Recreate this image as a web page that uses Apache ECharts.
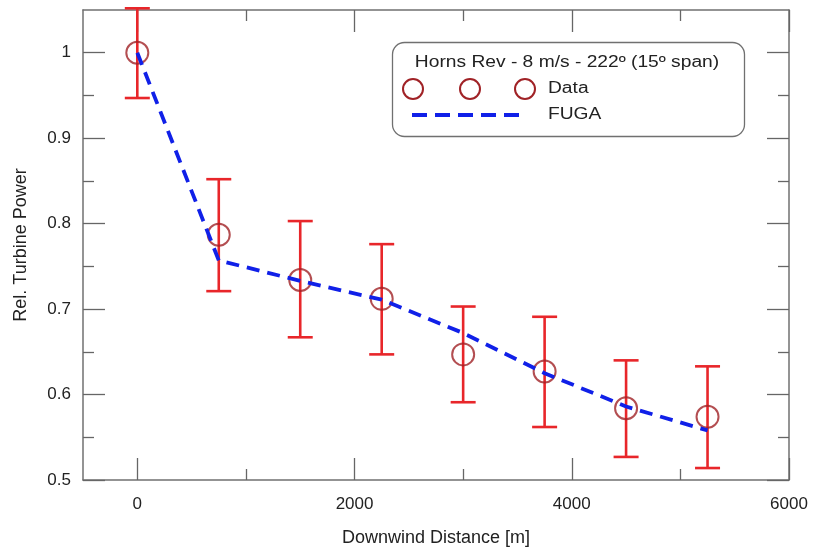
<!DOCTYPE html>
<html>
<head>
<meta charset="utf-8">
<script src="https://cdn.jsdelivr.net/npm/echarts@6/dist/echarts.min.js"></script>
<style>
html,body{margin:0;padding:0;background:#fff;}
#chart{width:813px;height:550px;}
</style>
</head>
<body>
<div id="chart"></div>
<script>
// ---- data ----
var distances = [0, 750, 1500, 2250, 3000, 3750, 4500, 5250];
var dataPower = [1.0, 0.787, 0.734, 0.712, 0.647, 0.627, 0.584, 0.574];
var errUpper  = [1.052, 0.852, 0.803, 0.776, 0.703, 0.691, 0.640, 0.633];
var errLower  = [0.947, 0.721, 0.667, 0.647, 0.591, 0.562, 0.527, 0.514];
var fugaPower = [1.0, 0.757, 0.733, 0.711, 0.672, 0.625, 0.586, 0.558];
var xMajorTicks = [0, 2000, 4000, 6000];
var xMinorTicks = [1000, 3000, 5000];
var yMajorTicks = [0.5, 0.6, 0.7, 0.8, 0.9, 1.0];
var yMinorTicks = [0.55, 0.65, 0.75, 0.85, 0.95];
var legendTitle = 'Horns Rev - 8 m/s - 222º (15º span)';
var seriesNames = ['Data', 'FUGA'];
var xTitle = 'Downwind Distance [m]';
var yTitle = 'Rel. Turbine Power';

var FONT = '"Liberation Sans", Arial, sans-serif';
var chart = echarts.init(document.getElementById('chart'), null, {renderer: 'canvas'});

function xAx(pos, ticks, len, showLine, labels) {
  return {
    type: 'value', position: pos, min: -500, max: 6000,
    axisLine: {show: showLine, onZero: false, lineStyle: {color: '#707070', width: 1.5}},
    axisTick: {show: true, inside: true, length: len, customValues: ticks, lineStyle: {color: '#666', width: 1.3}},
    axisLabel: labels ? {show: true, customValues: labels, margin: 16, color: '#222', fontSize: 17, fontFamily: FONT,
      formatter: function (v) { return String(Math.round(v)); }} : {show: false},
    splitLine: {show: false}
  };
}
function yAx(pos, ticks, len, showLine, labels) {
  return {
    type: 'value', position: pos, min: 0.5, max: 1.05,
    axisLine: {show: showLine, onZero: false, lineStyle: {color: '#707070', width: 1.5}},
    axisTick: {show: true, inside: true, length: len, customValues: ticks, lineStyle: {color: '#666', width: 1.3}},
    axisLabel: labels ? {show: true, customValues: labels, margin: 12, color: '#222', fontSize: 17, fontFamily: FONT,
      formatter: function (v) { return String(Math.round(v * 10) / 10); }} : {show: false},
    splitLine: {show: false}
  };
}

var xAxes = [
  xAx('bottom', xMajorTicks, 22, true, xMajorTicks),
  xAx('bottom', xMinorTicks, 11, false, null),
  xAx('top', xMajorTicks, 22, true, null),
  xAx('top', xMinorTicks, 11, false, null)
];
xAxes[0].name = xTitle;
xAxes[0].nameLocation = 'middle';
xAxes[0].nameGap = 49;
xAxes[0].nameTextStyle = {color: '#222', fontSize: 18, fontFamily: FONT};

var yAxes = [
  yAx('left', yMajorTicks, 22, true, yMajorTicks),
  yAx('left', yMinorTicks, 11, false, null),
  yAx('right', yMajorTicks, 22, true, null),
  yAx('right', yMinorTicks, 11, false, null)
];
yAxes[0].name = yTitle;
yAxes[0].nameLocation = 'middle';
yAxes[0].nameGap = 53;
yAxes[0].nameTextStyle = {color: '#222', fontSize: 18, fontFamily: FONT};

var errData = distances.map(function (d, i) { return [d, errLower[i], errUpper[i]]; });
var ptData = distances.map(function (d, i) { return [d, dataPower[i]]; });
var fugaData = distances.map(function (d, i) { return [d, fugaPower[i]]; });

var option = {
  backgroundColor: '#fff',
  animation: false,
  grid: {left: 83, top: 10, right: 24, bottom: 70, containLabel: false, outerBoundsMode: 'none'},
  xAxis: xAxes,
  yAxis: yAxes,
  series: [
    {
      type: 'custom', name: 'err', xAxisIndex: 0, yAxisIndex: 0, z: 2,
      data: errData,
      renderItem: function (params, api) {
        var lo = api.coord([api.value(0), api.value(1)]);
        var hi = api.coord([api.value(0), api.value(2)]);
        var hw = 12.5;
        var st = {stroke: '#e8262a', lineWidth: 2.6, fill: null};
        return {
          type: 'group',
          children: [
            {type: 'line', shape: {x1: lo[0], y1: lo[1], x2: hi[0], y2: hi[1]}, style: st},
            {type: 'line', shape: {x1: lo[0] - hw, y1: lo[1], x2: lo[0] + hw, y2: lo[1]}, style: st},
            {type: 'line', shape: {x1: hi[0] - hw, y1: hi[1], x2: hi[0] + hw, y2: hi[1]}, style: st}
          ]
        };
      }
    },
    {
      type: 'scatter', name: seriesNames[0], xAxisIndex: 0, yAxisIndex: 0, z: 3,
      data: ptData, symbol: 'circle', symbolSize: 22,
      itemStyle: {color: 'rgba(0,0,0,0)', borderColor: '#a02226', borderWidth: 2}
    },
    {
      type: 'line', name: seriesNames[1], xAxisIndex: 0, yAxisIndex: 0, z: 4,
      data: fugaData, showSymbol: false, symbol: 'none',
      lineStyle: {color: '#1020e8', width: 3.8, type: [13, 8], cap: 'butt'}
    }
  ],
  graphic: [
    {type: 'rect', shape: {x: 392.5, y: 42.5, width: 352, height: 94, r: 12}, style: {fill: '#fff', stroke: '#707070', lineWidth: 1.3}, z: 10},
    {type: 'text', x: 567, y: 63, scaleX: 1.2, style: {text: legendTitle, fill: '#222', font: '16px ' + FONT, align: 'center', verticalAlign: 'middle'}, z: 11},
    {type: 'circle', shape: {cx: 413, cy: 89, r: 10}, style: {fill: null, stroke: '#a02226', lineWidth: 2}, z: 11},
    {type: 'circle', shape: {cx: 470, cy: 89, r: 10}, style: {fill: null, stroke: '#a02226', lineWidth: 2}, z: 11},
    {type: 'circle', shape: {cx: 525, cy: 89, r: 10}, style: {fill: null, stroke: '#a02226', lineWidth: 2}, z: 11},
    {type: 'text', x: 548, y: 89, scaleX: 1.2, style: {text: seriesNames[0], fill: '#222', font: '16px ' + FONT, align: 'left', verticalAlign: 'middle'}, z: 11},
    {type: 'line', shape: {x1: 412, y1: 115, x2: 520, y2: 115}, style: {stroke: '#1020e8', lineWidth: 3.8, lineDash: [15, 8], lineCap: 'butt'}, z: 11},
    {type: 'text', x: 548, y: 115, scaleX: 1.2, style: {text: seriesNames[1], fill: '#222', font: '16px ' + FONT, align: 'left', verticalAlign: 'middle'}, z: 11}
  ]
};
chart.setOption(option);
</script>
</body>
</html>
